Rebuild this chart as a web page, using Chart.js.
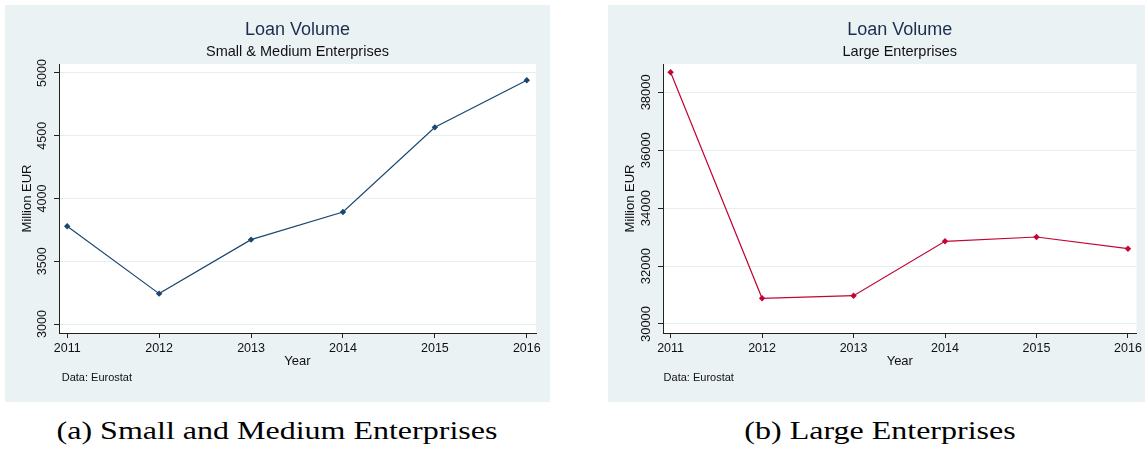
<!DOCTYPE html>
<html>
<head>
<meta charset="utf-8">
<script src="https://cdn.jsdelivr.net/npm/chart.js@4.4.1/dist/chart.umd.min.js"></script>
<style>
  body { margin: 0; width: 1145px; height: 450px; background: #fff; position: relative; overflow: hidden; }
  canvas { position: absolute; top: 5px; }
  #smeChart { left: 5px; }
  #largeChart { left: 608px; }
  .caption {
    position: absolute; top: 417px; transform: translateX(-50%) scaleX(1.28);
    font-family: "Liberation Serif", "DejaVu Serif", serif; font-size: 25px;
    line-height: 28px; white-space: nowrap; color: #000;
  }
</style>
</head>
<body>
<canvas id="smeChart" width="545" height="397"></canvas>
<canvas id="largeChart" width="537" height="397"></canvas>
<div class="caption" style="left:277px">(a) Small and Medium Enterprises</div>
<div class="caption" style="left:880px">(b) Large Enterprises</div>

<script>
// values (Million EUR)
const years = [2011, 2012, 2013, 2014, 2015, 2016];
const smeVolume = [3779, 3242, 3672, 3892, 4567, 4942];
const largeVolume = [38691, 30887, 30977, 32856, 33004, 32600];
const smeTicks = [3000, 3500, 4000, 4500, 5000];
const largeTicks = [30000, 32000, 34000, 36000, 38000];

const BG = '#eaf2f3';
const FONT = '"Liberation Sans", Arial, sans-serif';

// Stata-like panel: grey-blue background, white plot region, titles and note
const panelText = {
  id: 'panelText',
  beforeDraw(chart) {
    const { ctx, chartArea: a, width, height } = chart;
    ctx.save();
    ctx.fillStyle = BG;
    ctx.fillRect(0, 0, width, height);
    ctx.fillStyle = '#fff';
    ctx.fillRect(a.left, a.top, a.right - a.left, a.bottom - a.top);
    ctx.restore();
  },
  afterDraw(chart, args, opts) {
    const { ctx, chartArea: a } = chart;
    const cx = (a.left + a.right) / 2;
    ctx.save();
    ctx.textAlign = 'center';
    ctx.textBaseline = 'middle';
    ctx.fillStyle = '#1c2d50';
    ctx.font = `18px ${FONT}`;
    ctx.fillText(opts.title, cx, 25);
    ctx.fillStyle = '#111';
    ctx.font = `14.5px ${FONT}`;
    ctx.fillText(opts.subtitle, cx, 46.7);
    ctx.font = `13px ${FONT}`;
    ctx.fillText('Year', cx, 356.7);
    ctx.save();
    ctx.translate(opts.yTitleX, (a.top + a.bottom) / 2);
    ctx.rotate(-Math.PI / 2);
    ctx.fillText('Million EUR', 0, 0);
    ctx.restore();
    ctx.textAlign = 'left';
    ctx.font = `11px ${FONT}`;
    ctx.fillText('Data: Eurostat', opts.noteX, 373.3);
    ctx.restore();
  }
};

function makeChart(id, cfg) {
  return new Chart(document.getElementById(id), {
    type: 'line',
    data: {
      datasets: [{
        data: years.map((yr, i) => ({ x: yr, y: cfg.values[i] })),
        borderColor: cfg.color,
        backgroundColor: cfg.color,
        borderWidth: 1.2,
        pointStyle: 'rectRot',
        pointRadius: 3.2,
        pointBorderWidth: 0,
        tension: 0
      }]
    },
    plugins: [panelText],
    options: {
      responsive: false,
      animation: false,
      events: [],
      layout: { padding: { top: 59, right: cfg.padRight, left: 0, bottom: 0 } },
      plugins: {
        legend: { display: false },
        tooltip: { enabled: false },
        panelText: { title: 'Loan Volume', subtitle: cfg.subtitle, yTitleX: cfg.yTitleX, noteX: cfg.noteX }
      },
      scales: {
        x: {
          type: 'linear',
          min: cfg.xMin,
          max: cfg.xMax,
          afterBuildTicks: s => { s.ticks = years.map(v => ({ value: v })); },
          afterFit: s => { s.height = 69; },
          grid: { drawOnChartArea: false, tickLength: 5, tickColor: '#222' },
          border: { color: '#222', width: 1 },
          ticks: { font: { family: FONT, size: 12.5 }, color: '#111', padding: 3, callback: v => String(v) }
        },
        y: {
          min: cfg.yMin,
          max: cfg.yMax,
          afterBuildTicks: s => { s.ticks = cfg.ticks.map(v => ({ value: v })); },
          afterFit: s => { s.width = cfg.yWidth; },
          grid: { color: '#e6eef0', lineWidth: 1, tickLength: 5, tickColor: '#222' },
          border: { color: '#222', width: 1 },
          ticks: {
            minRotation: 90, maxRotation: 90, crossAlign: 'center', autoSkip: false,
            padding: cfg.tickPad,
            font: { family: FONT, size: cfg.yFont }, color: '#111',
            callback: v => String(v)
          }
        }
      }
    }
  });
}

makeChart('smeChart', {
  values: smeVolume, ticks: smeTicks, color: '#1a476f',
  subtitle: 'Small & Medium Enterprises',
  xMin: 2010.911, xMax: 2016.10, yMin: 2928.3, yMax: 5071.7,
  yWidth: 54, padRight: 14, tickPad: -2.4, yFont: 12.5, yTitleX: 22.9, noteX: 56.7
});

makeChart('largeChart', {
  values: largeVolume, ticks: largeTicks, color: '#c10534',
  subtitle: 'Large Enterprises',
  xMin: 2010.917, xMax: 2016.094, yMin: 29689, yMax: 38977,
  yWidth: 55, padRight: 7, tickPad: -6.5, yFont: 13, yTitleX: 22.6, noteX: 55.6
});
</script>
</body>
</html>
